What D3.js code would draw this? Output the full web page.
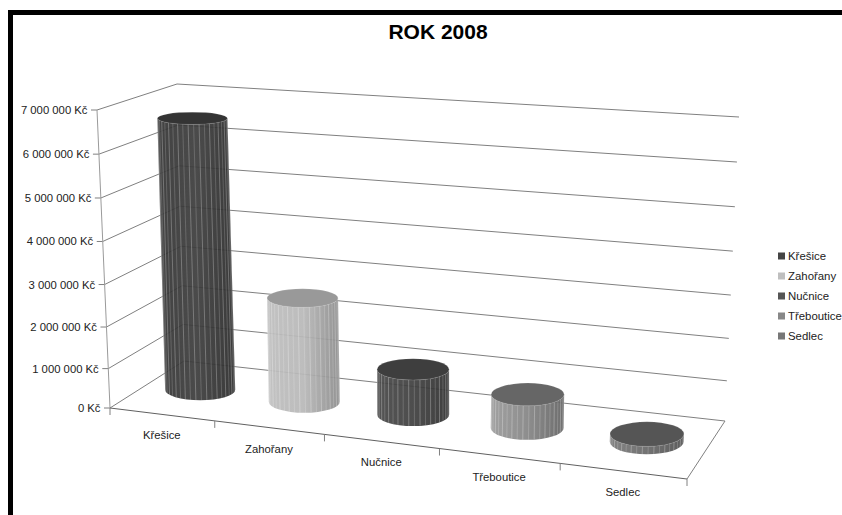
<!DOCTYPE html>
<html>
<head>
<meta charset="utf-8">
<title>ROK 2008</title>
<script src="https://d3js.org/d3.v7.min.js"></script>
<style>
    html, body { margin: 0; padding: 0; background: #fff; }
    svg { display: block; }
    text { font-family: "Liberation Sans", Arial, sans-serif; fill: #222; }
</style>
</head>
<body>
<script>
    var categories = ["Křešice", "Zahořany", "Nučnice", "Třeboutice", "Sedlec"];
    var values = [6570000, 2560000, 1130000, 830000, 200000];
    var yTicks = [0, 1000000, 2000000, 3000000, 4000000, 5000000, 6000000, 7000000];

    var sideColors = [
        ["#333333", "#3d3d3d", "#2b2b2b"],
        ["#bdbdbd", "#b8b8b8", "#8a8a8a"],
        ["#474747", "#404040", "#303030"],
        ["#9a9a9a", "#858585", "#626262"],
        ["#7a7a7a", "#686868", "#505050"]
    ];
    var topColors = ["#343434", "#999999", "#3e3e3e", "#666666", "#555555"];
    var legendColors = ["#444444", "#bfbfbf", "#555555", "#888888", "#777777"];

    var w = 842, h = 515;

    // corners of the plot box: front-left, front-right, back-right, back-left
    var floorQuad = [[110, 408], [687, 479], [725, 421], [184, 361]];
    var roofQuad = [[97, 110], [701, 150], [739, 117], [177, 84]];

    function quadMap(q) {
        var x0 = q[0][0], y0 = q[0][1], x1 = q[1][0], y1 = q[1][1];
        var x2 = q[2][0], y2 = q[2][1], x3 = q[3][0], y3 = q[3][1];
        var dx1 = x1 - x2, dx2 = x3 - x2, sx = x0 - x1 + x2 - x3;
        var dy1 = y1 - y2, dy2 = y3 - y2, sy = y0 - y1 + y2 - y3;
        var den = dx1 * dy2 - dx2 * dy1;
        var g = (sx * dy2 - dx2 * sy) / den, k = (dx1 * sy - sx * dy1) / den;
        var a = x1 - x0 + g * x1, b = x3 - x0 + k * x3;
        var d = y1 - y0 + g * y1, e = y3 - y0 + k * y3;
        return function (u, v) {
            var m = g * u + k * v + 1;
            return [(a * u + b * v + x0) / m, (d * u + e * v + y0) / m];
        };
    }

    var floorAt = quadMap(floorQuad);
    var roofAt = quadMap(roofQuad);

    var band = d3.scaleBand().domain(categories).range([0, 1]);
    var height = d3.scalePow().exponent(1.04).domain([0, 7000000]).range([0, 1]);

    // plot position of a point (u along categories, v into depth, value up)
    function project(u, v, value) {
        var a = floorAt(u, v), b = roofAt(u, v), t = height(value);
        return [a[0] + (b[0] - a[0]) * t, a[1] + (b[1] - a[1]) * t];
    }

    var svg = d3.select("body").append("svg").attr("width", w).attr("height", h);
    var defs = svg.append("defs");

    svg.append("rect").attr("x", 8).attr("y", 10).attr("width", w - 8).attr("height", 5).attr("fill", "#000");
    svg.append("rect").attr("x", 8).attr("y", 10).attr("width", 5).attr("height", h - 10).attr("fill", "#000");

    svg.append("text")
        .attr("x", 438).attr("y", 39)
        .attr("text-anchor", "middle")
        .attr("font-size", 21).attr("font-weight", "bold")
        .style("fill", "#000")
        .text("ROK 2008");

    function seg(a, b, color) {
        svg.append("line")
            .attr("x1", a[0]).attr("y1", a[1])
            .attr("x2", b[0]).attr("y2", b[1])
            .attr("stroke", color).attr("stroke-width", 1);
    }

    // walls
    yTicks.forEach(function (t) {
        var front = project(0, 0, t), back = project(0, 1, t), right = project(1, 1, t);
        seg(front, back, "#808080");
        seg(back, right, "#808080");
        seg([front[0] - 6, front[1]], front, "#808080");
        svg.append("text")
            .attr("x", front[0] - 9.5).attr("y", front[1] + 4)
            .attr("text-anchor", "end")
            .attr("font-size", 11.3)
            .text(d3.format(",")(t).replace(/,/g, " ") + " Kč");
    });
    seg(project(0, 0, 7000000), project(0, 0, 0), "#9a9a9a");

    // floor
    seg(project(0, 0, 0), project(1, 0, 0), "#606060");
    seg(project(1, 0, 0), project(1, 1, 0), "#808080");
    d3.range(0, categories.length + 1).forEach(function (i) {
        var p = project(i / categories.length, 0, 0);
        seg(p, [p[0], p[1] + 7], "#808080");
    });
    categories.forEach(function (c) {
        var p = project(band(c) + band.bandwidth() / 2, 0, 0);
        svg.append("text")
            .attr("x", p[0]).attr("y", p[1] + 25)
            .attr("text-anchor", "middle")
            .attr("font-size", 11.3)
            .text(c);
    });

    // cylinders, depth radius follows the plane they stand on
    categories.forEach(function (c, i) {
        var u = band(c) + band.bandwidth() / 2 + 0.003;
        var rx = 34.8 + u * 2.4;
        var base = project(u, 0.5, 0), top = project(u, 0.5, values[i]);
        var ryOf = function (value) {
            return Math.abs(project(u, 0.72, value)[1] - project(u, 0.28, value)[1]) / 2;
        };
        var ryB = ryOf(0), ryT = ryOf(values[i]);

        var grad = defs.append("linearGradient").attr("id", "side" + i);
        sideColors[i].forEach(function (col, k) {
            grad.append("stop").attr("offset", k / 2).attr("stop-color", col);
        });

        var g = svg.append("g");
        g.append("path")
            .attr("d", "M" + (top[0] - rx) + "," + top[1] +
                "L" + (base[0] - rx) + "," + base[1] +
                "A" + rx + "," + ryB + " 0 0 0 " + (base[0] + rx) + "," + base[1] +
                "L" + (top[0] + rx) + "," + top[1] +
                "A" + rx + "," + ryT + " 0 0 1 " + (top[0] - rx) + "," + top[1] + "Z")
            .attr("fill", "url(#side" + i + ")")
            .attr("fill-opacity", 0.93);

        d3.range(7, 180, 9).forEach(function (deg) {
            var r = deg * Math.PI / 180;
            g.append("line")
                .attr("x1", top[0] + rx * Math.cos(r)).attr("y1", top[1] + ryT * Math.sin(r))
                .attr("x2", base[0] + rx * Math.cos(r)).attr("y2", base[1] + ryB * Math.sin(r))
                .attr("stroke", "#fff")
                .attr("stroke-opacity", deg % 2 ? 0.3 : 0.2)
                .attr("stroke-width", 0.9);
        });

        g.append("ellipse")
            .attr("cx", top[0]).attr("cy", top[1])
            .attr("rx", rx).attr("ry", ryT)
            .attr("fill", topColors[i])
            .attr("stroke", "#fff").attr("stroke-opacity", 0.2).attr("stroke-width", 0.6);
    });

    // legend
    var legend = svg.selectAll(".legend")
        .data(categories)
        .enter().append("g")
        .attr("class", "legend")
        .attr("transform", function (d, i) { return "translate(778," + (256 + i * 20) + ")"; });
    legend.append("rect")
        .attr("y", -3.5).attr("width", 7).attr("height", 7)
        .attr("fill", function (d, i) { return legendColors[i]; });
    legend.append("text")
        .attr("x", 10).attr("y", 4)
        .attr("font-size", 11.4)
        .text(function (d) { return d; });
</script>
</body>
</html>
